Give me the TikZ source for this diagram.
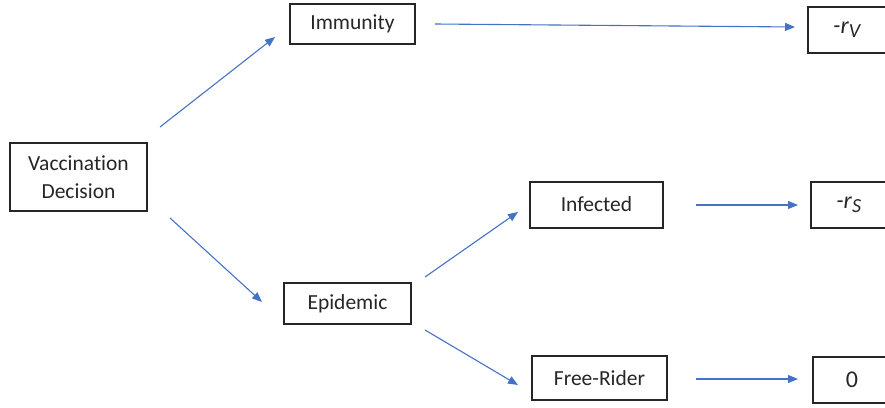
\documentclass[tikz,border=0pt]{standalone}
\usepackage{fontspec}
\setmainfont{Carlito}[Ligatures={NoCommon}]
\usetikzlibrary{arrows.meta}
\definecolor{arrblue}{HTML}{4472C4}
\definecolor{boxline}{HTML}{262626}
\begin{document}
\begin{tikzpicture}[x=1pt,y=-1pt,
  box/.style={draw=boxline, line width=1.1pt, inner sep=0pt, align=center,
    font=\fontsize{21.5}{28}\selectfont, text=black!85},
  arr/.style={draw=arrblue, line width=1.1pt, -{Triangle[length=10pt,width=8pt]}}]
\useasboundingbox (0,0) rectangle (885,407);
\node[box, minimum width=137pt, minimum height=68pt] (vd) at (78.5,177) {Vaccination\\Decision};
\node[box, minimum width=125pt, minimum height=40pt] (imm) at (352.5,24) {Immunity};
\node[box, minimum width=127pt, minimum height=41pt] (epi) at (347.5,303.5) {Epidemic};
\node[box, minimum width=133pt, minimum height=46pt] (inf) at (596.5,205) {\raisebox{2pt}{Infected}};
\node[box, minimum width=135pt, minimum height=44pt] (fr) at (599.5,378) {Free-Rider};
\node[box, minimum width=79pt, minimum height=46pt] (rv) at (847.5,30) {\fontsize{24}{28}\selectfont\textit{-r}\textsubscript{\fontsize{20}{22}\selectfont\textit{V}}};
\node[box, minimum width=76pt, minimum height=46pt] (rs) at (849,205) {\fontsize{24}{28}\selectfont\textit{-r}\textsubscript{\fontsize{20}{22}\selectfont\textit{S}}};
\node[box, minimum width=78pt, minimum height=46pt] (zero) at (852,380) {\fontsize{24}{28}\selectfont 0};
\coordinate (a1s) at (160,127); \coordinate (a1e) at (275,37);
\coordinate (a2s) at (435,24);  \coordinate (a2e) at (795,27);
\coordinate (a3s) at (170,218); \coordinate (a3e) at (262,302);
\coordinate (a4s) at (425,277); \coordinate (a4e) at (518,212);
\coordinate (a5s) at (425,330); \coordinate (a5e) at (518,385);
\coordinate (a6s) at (696,205); \coordinate (a6e) at (798,205);
\coordinate (a7s) at (696,379); \coordinate (a7e) at (798,379);
\draw[arr] (a1s) -- (a1e);
\draw[arr] (a2s) -- (a2e);
\draw[arr] (a3s) -- (a3e);
\draw[arr] (a4s) -- (a4e);
\draw[arr] (a5s) -- (a5e);
\draw[arr] (a6s) -- (a6e);
\draw[arr] (a7s) -- (a7e);
\end{tikzpicture}
\end{document}
